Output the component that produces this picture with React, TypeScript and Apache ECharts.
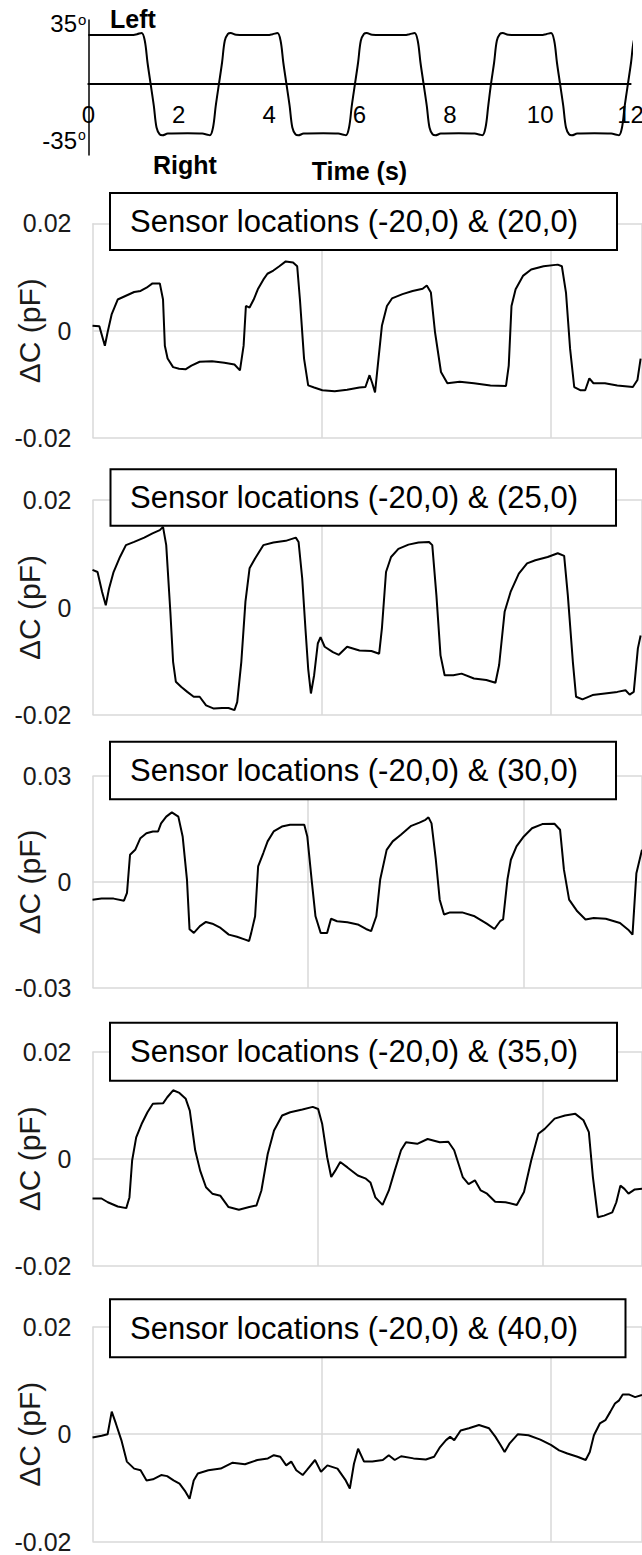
import React, { useEffect, useRef } from "react";
import * as echarts from "echarts";

const FONT = "'Liberation Sans', Arial, sans-serif";

// Head rotation command: [time (s), angle (deg)]
const angleTrace: [number, number][] = [
  [0, 34], [0.5, 34], [0.96, 34], [1.08, 34.6], [1.18, 35.4], [1.25, 30], [1.31, 15], [1.38, 0],
  [1.45, -15], [1.51, -30], [1.58, -34.8], [1.64, -35.4], [1.76, -34.2], [2.2, -34], [2.52, -34.2],
  [2.62, -34.8], [2.69, -35.4], [2.76, -30], [2.82, -15], [2.89, 0], [2.96, 15], [3.02, 30],
  [3.09, 34.8], [3.15, 35.4], [3.27, 34.2], [3.7, 34], [3.97, 34], [4.08, 34.6], [4.185, 35.4],
  [4.255, 30], [4.315, 15], [4.385, 0], [4.455, -15], [4.515, -30], [4.585, -34.8], [4.645, -35.4],
  [4.765, -34.2], [5.2, -34], [5.53, -34.2], [5.63, -34.8], [5.7, -35.4], [5.77, -30], [5.83, -15],
  [5.9, 0], [5.97, 15], [6.03, 30], [6.1, 34.8], [6.16, 35.4], [6.28, 34.2], [6.7, 34], [7.0, 34],
  [7.11, 34.6], [7.22, 35.4], [7.29, 30], [7.35, 15], [7.42, 0], [7.49, -15], [7.55, -30],
  [7.62, -34.8], [7.68, -35.4], [7.8, -34.2], [8.2, -34], [8.55, -34.2], [8.65, -34.8], [8.72, -35.4],
  [8.79, -30], [8.85, -15], [8.91, 0], [8.98, 15], [9.04, 30], [9.11, 34.8], [9.17, 35.4],
  [9.29, 34.2], [9.7, 34], [10.02, 34], [10.13, 34.6], [10.24, 35.4], [10.31, 30], [10.37, 15],
  [10.44, 0], [10.51, -15], [10.57, -30], [10.64, -34.8], [10.7, -35.4], [10.82, -34.2], [11.2, -34],
  [11.57, -34.2], [11.67, -34.8], [11.74, -35.4], [11.81, -30], [11.87, -15], [11.94, 0],
  [12.01, 15], [12.07, 30], [12.14, 34.8], [12.2, 35.4], [12.3, 34.5],
];
const timeTicks = [0, 2, 4, 6, 8, 10, 12];

// Capacitance change traces: [time (s), ΔC (pF)]
const trace20: [number, number][] = [
  [0, 0.0009], [0.15, 0.0008], [0.27, -0.0028], [0.33, -0.0003], [0.42, 0.0031], [0.55, 0.0058],
  [0.73, 0.0065], [0.91, 0.0072], [1.05, 0.0074], [1.18, 0.008], [1.31, 0.0088], [1.47, 0.0088],
  [1.54, 0.0058], [1.58, -0.0028], [1.64, -0.0052], [1.76, -0.0068], [1.89, -0.0071], [2.03, -0.0072],
  [2.16, -0.0065], [2.34, -0.0058], [2.61, -0.0057], [2.88, -0.006], [3.1, -0.0063], [3.22, -0.0074],
  [3.3, -0.0028], [3.35, 0.0046], [3.43, 0.0043], [3.52, 0.0058], [3.61, 0.0077], [3.73, 0.0095],
  [3.82, 0.0106], [3.95, 0.0112], [4.08, 0.012], [4.22, 0.0129], [4.38, 0.0127], [4.47, 0.012],
  [4.53, 0.0058], [4.62, -0.0052], [4.71, -0.0102], [4.84, -0.0106], [5.02, -0.0111], [5.29, -0.0113],
  [5.56, -0.011], [5.83, -0.0106], [5.96, -0.0105], [6.05, -0.0083], [6.11, -0.0098], [6.17, -0.0115],
  [6.23, -0.0065], [6.32, 0.0009], [6.43, 0.0046], [6.54, 0.006], [6.77, 0.0068], [6.99, 0.0074],
  [7.21, 0.0078], [7.3, 0.0084], [7.39, 0.0071], [7.48, -0.0003], [7.61, -0.0077], [7.75, -0.0098],
  [8.02, -0.0095], [8.33, -0.0098], [8.69, -0.0102], [9.03, -0.0103], [9.09, -0.0065], [9.15, 0.0046],
  [9.24, 0.0077], [9.4, 0.0102], [9.58, 0.0114], [9.85, 0.012], [10.16, 0.0123], [10.25, 0.012],
  [10.34, 0.0071], [10.43, -0.0034], [10.52, -0.0105], [10.65, -0.0111], [10.76, -0.0111],
  [10.85, -0.0089], [10.94, -0.0098], [11.19, -0.0098], [11.46, -0.0102], [11.8, -0.0105],
  [11.9, -0.0092], [11.97, -0.0052],
];

const trace25: [number, number][] = [
  [0, 0.007], [0.11, 0.0066], [0.21, 0.0029], [0.29, 0.0004], [0.36, 0.0035], [0.46, 0.0066],
  [0.6, 0.0094], [0.73, 0.0116], [0.91, 0.0122], [1.13, 0.013], [1.31, 0.0138], [1.47, 0.0144],
  [1.54, 0.015], [1.61, 0.0116], [1.7, -0.0008], [1.76, -0.0101], [1.82, -0.0138], [1.94, -0.0148],
  [2.07, -0.0157], [2.21, -0.0166], [2.34, -0.0166], [2.48, -0.0182], [2.65, -0.0188], [2.83, -0.0187],
  [2.97, -0.0187], [3.1, -0.0191], [3.16, -0.0176], [3.25, -0.0101], [3.34, 0.0011], [3.43, 0.0073],
  [3.55, 0.0091], [3.73, 0.0116], [3.95, 0.0121], [4.22, 0.0124], [4.44, 0.013], [4.5, 0.0122],
  [4.58, 0.0054], [4.65, -0.0039], [4.71, -0.0114], [4.77, -0.016], [4.84, -0.0126], [4.92, -0.0067],
  [4.98, -0.0055], [5.07, -0.0073], [5.25, -0.0083], [5.38, -0.0088], [5.56, -0.0073], [5.83, -0.008],
  [6.09, -0.0081], [6.26, -0.0086], [6.32, -0.0039], [6.41, 0.0066], [6.52, 0.0094], [6.68, 0.0109],
  [6.9, 0.0117], [7.12, 0.0121], [7.35, 0.0122], [7.42, 0.0116], [7.51, 0.0023], [7.6, -0.0089],
  [7.69, -0.0126], [7.88, -0.0126], [8.06, -0.0123], [8.33, -0.0132], [8.6, -0.0135], [8.8, -0.014],
  [8.88, -0.0107], [9.0, -0.0008], [9.13, 0.0029], [9.31, 0.0063], [9.49, 0.0082], [9.67, 0.0088],
  [9.94, 0.0094], [10.16, 0.0101], [10.3, 0.0096], [10.38, 0.0023], [10.49, -0.0101], [10.56, -0.0166],
  [10.7, -0.0171], [10.92, -0.0163], [11.19, -0.016], [11.46, -0.0157], [11.64, -0.0154],
  [11.73, -0.0162], [11.82, -0.0157], [11.91, -0.0076], [11.97, -0.0052],
];

const trace30: [number, number][] = [
  [0, -0.005], [0.21, -0.0047], [0.49, -0.0047], [0.73, -0.0053], [0.8, -0.0031], [0.87, 0.0077],
  [0.99, 0.0091], [1.11, 0.0124], [1.25, 0.0138], [1.4, 0.0143], [1.52, 0.0143], [1.59, 0.0166],
  [1.71, 0.0185], [1.84, 0.0197], [1.99, 0.0185], [2.09, 0.0129], [2.19, 0.0007], [2.25, -0.0134],
  [2.35, -0.0144], [2.49, -0.0125], [2.63, -0.0113], [2.78, -0.0118], [2.97, -0.013], [3.16, -0.0149],
  [3.35, -0.0155], [3.54, -0.0163], [3.63, -0.0167], [3.68, -0.0144], [3.77, -0.0097], [3.84, 0.0044],
  [3.96, 0.0082], [4.06, 0.0115], [4.2, 0.0143], [4.39, 0.0157], [4.58, 0.0162], [4.91, 0.0162],
  [4.98, 0.0129], [5.08, 0.0007], [5.17, -0.0097], [5.29, -0.0144], [5.44, -0.0144], [5.53, -0.0104],
  [5.67, -0.0111], [5.91, -0.0114], [6.15, -0.012], [6.34, -0.0133], [6.46, -0.0139], [6.58, -0.0097],
  [6.67, 0.0007], [6.82, 0.0091], [6.96, 0.0115], [7.15, 0.0134], [7.39, 0.0159], [7.58, 0.0168],
  [7.72, 0.0176], [7.79, 0.0183], [7.86, 0.0166], [7.96, 0.0063], [8.05, -0.005], [8.15, -0.0092],
  [8.29, -0.0086], [8.57, -0.0086], [8.86, -0.0097], [9.14, -0.0118], [9.32, -0.0133], [9.45, -0.0111],
  [9.52, -0.0106], [9.62, 0.0007], [9.7, 0.0063], [9.83, 0.0101], [10.0, 0.0129], [10.19, 0.0152],
  [10.43, 0.0164], [10.71, 0.0165], [10.84, 0.0148], [10.93, 0.0035], [11.05, -0.005], [11.24, -0.0083],
  [11.43, -0.0106], [11.62, -0.0102], [11.9, -0.0104], [12.23, -0.0116], [12.42, -0.0135],
  [12.52, -0.0149], [12.61, 0.0025], [12.74, 0.0091],
];

const trace35: [number, number][] = [
  [0, -0.0074], [0.2, -0.0074], [0.34, -0.0081], [0.56, -0.0089], [0.75, -0.0092], [0.82, -0.0072],
  [0.88, -0.0003], [0.97, 0.004], [1.09, 0.0065], [1.22, 0.0087], [1.34, 0.0103], [1.57, 0.0104],
  [1.66, 0.0115], [1.79, 0.0128], [1.93, 0.0123], [2.07, 0.0112], [2.16, 0.009], [2.28, 0.0016],
  [2.39, -0.0022], [2.52, -0.0053], [2.66, -0.0065], [2.84, -0.0069], [3.02, -0.009], [3.25, -0.0095],
  [3.48, -0.009], [3.64, -0.0087], [3.75, -0.0059], [3.89, 0.0009], [4.03, 0.0053], [4.21, 0.0081],
  [4.39, 0.0087], [4.66, 0.0092], [4.89, 0.0097], [5.01, 0.0093], [5.1, 0.0065], [5.21, 0.0003],
  [5.3, -0.0034], [5.39, -0.0022], [5.5, -0.0006], [5.66, -0.0016], [5.89, -0.0031], [6.07, -0.0037],
  [6.17, -0.0044], [6.28, -0.0072], [6.44, -0.0086], [6.58, -0.0059], [6.71, -0.0022], [6.85, 0.0016],
  [6.96, 0.0031], [7.21, 0.0028], [7.44, 0.0037], [7.71, 0.0031], [7.9, 0.0032], [8.03, 0.0016],
  [8.22, -0.0034], [8.35, -0.0047], [8.49, -0.004], [8.62, -0.0059], [8.76, -0.0065], [8.94, -0.008],
  [9.17, -0.0081], [9.42, -0.0086], [9.58, -0.0062], [9.74, -0.0003], [9.9, 0.0047], [10.04, 0.0056],
  [10.26, 0.0075], [10.49, 0.0081], [10.72, 0.0084], [10.9, 0.0072], [11.02, 0.005], [11.11, -0.0034],
  [11.22, -0.0109], [11.36, -0.0106], [11.54, -0.01], [11.63, -0.0081], [11.72, -0.005],
  [11.81, -0.0056], [11.9, -0.0065], [12.04, -0.0057], [12.2, -0.0056],
];

const trace40: [number, number][] = [
  [0, -0.0006], [0.2, -0.0003], [0.33, 0], [0.42, 0.0042], [0.51, 0.002], [0.63, -0.0011],
  [0.75, -0.0051], [0.91, -0.0064], [1.05, -0.0067], [1.18, -0.0086], [1.32, -0.0084], [1.5, -0.0076],
  [1.63, -0.0078], [1.77, -0.0086], [1.9, -0.0092], [2.03, -0.0107], [2.12, -0.012], [2.21, -0.0086],
  [2.3, -0.0073], [2.53, -0.0067], [2.8, -0.0064], [3.06, -0.0053], [3.33, -0.0056], [3.6, -0.0048],
  [3.83, -0.0045], [3.96, -0.0039], [4.1, -0.0042], [4.23, -0.0058], [4.34, -0.0051], [4.45, -0.0067],
  [4.59, -0.0076], [4.68, -0.0067], [4.86, -0.0048], [4.99, -0.007], [5.13, -0.0058], [5.35, -0.0064],
  [5.53, -0.0086], [5.62, -0.0101], [5.71, -0.0055], [5.8, -0.0027], [5.93, -0.0051], [6.11, -0.0051],
  [6.34, -0.0048], [6.47, -0.0039], [6.6, -0.0048], [6.74, -0.0041], [7.01, -0.0045], [7.28, -0.0047],
  [7.46, -0.0042], [7.59, -0.0024], [7.72, -0.0011], [7.81, -0.0005], [7.9, -0.0011], [8.04, 0.0007],
  [8.22, 0.0011], [8.44, 0.0017], [8.66, 0.0011], [8.8, -0.0005], [8.91, -0.002], [9.0, -0.0033],
  [9.11, -0.0017], [9.29, 0], [9.52, -0.0002], [9.78, -0.001], [10.01, -0.002], [10.19, -0.003],
  [10.37, -0.0036], [10.59, -0.0042], [10.77, -0.0048], [10.86, -0.0033], [10.95, -0.0002],
  [11.08, 0.002], [11.2, 0.0026], [11.31, 0.0042], [11.41, 0.0057], [11.5, 0.0063], [11.58, 0.0074],
  [11.71, 0.0074], [11.85, 0.0069], [12.0, 0.0073],
];

const panelTitles = [
  "Sensor locations (-20,0) & (20,0)",
  "Sensor locations (-20,0) & (25,0)",
  "Sensor locations (-20,0) & (30,0)",
  "Sensor locations (-20,0) & (35,0)",
  "Sensor locations (-20,0) & (40,0)",
];
const panelTraces = [trace20, trace25, trace30, trace35, trace40];
const panelLimits = [0.02, 0.02, 0.03, 0.02, 0.02];
const panelTimeMax = [12, 12, 12.74, 12.2, 12];

// Plot-area placement of each sensor panel (px)
const panelGrids = [
  { top: 223.3, height: 214.7 },
  { top: 500, height: 215 },
  { top: 776, height: 212 },
  { top: 1051.7, height: 214.3 },
  { top: 1326.7, height: 215 },
];
const panelBoxes = [
  { x: 110, y: 193, w: 507, h: 57 },
  { x: 110.5, y: 469.3, w: 505.5, h: 56.4 },
  { x: 110, y: 741.7, w: 506, h: 57.6 },
  { x: 110, y: 1022.7, w: 507, h: 58 },
  { x: 110, y: 1299.3, w: 515.5, h: 58 },
];

const GRID_COLOR = "#d9d9d9";
const LABEL_COLOR = "#1a1a1a";

// Angle panel geometry: plot area and value range
const ANGLE_TOP = 20;
const ANGLE_HEIGHT = 135;
const ANGLE_MIN = -49;
const ANGLE_MAX = 44.4;

export default function App() {
  const ref = useRef<HTMLDivElement>(null);

  useEffect(() => {
    if (!ref.current) return;
    const chart = echarts.init(ref.current, undefined, { renderer: "svg" });

    // distance from the plot bottom up to the 0° line
    const zeroLift = (ANGLE_HEIGHT * (0 - ANGLE_MIN)) / (ANGLE_MAX - ANGLE_MIN);

    const grids: any[] = [
      {
        left: 88.3,
        top: ANGLE_TOP,
        width: 542.3,
        height: ANGLE_HEIGHT,
        containLabel: false,
        outerBoundsMode: "none",
      },
    ];
    const xAxes: any[] = [
      {
        gridIndex: 0,
        type: "value",
        min: 0,
        max: 12,
        interval: 2,
        offset: -zeroLift,
        axisLine: { show: true, onZero: false, lineStyle: { color: "#000", width: 2 } },
        axisTick: { show: false },
        splitLine: { show: false },
        axisLabel: {
          fontSize: 24,
          fontFamily: FONT,
          color: "#000",
          margin: 18,
          customValues: timeTicks,
        },
        name: "Time (s)",
        nameLocation: "middle",
        nameGap: 74,
        nameMoveOverlap: false,
        nameTextStyle: { fontSize: 25, fontWeight: "bold", fontFamily: FONT, color: "#000" },
      },
    ];
    const yAxes: any[] = [
      {
        gridIndex: 0,
        type: "value",
        min: ANGLE_MIN,
        max: ANGLE_MAX,
        axisLine: { show: true, onZero: false, lineStyle: { color: "#000", width: 1.5 } },
        axisTick: { show: false },
        axisLabel: { show: false },
        splitLine: { show: false },
      },
    ];
    const series: any[] = [
      {
        type: "line",
        xAxisIndex: 0,
        yAxisIndex: 0,
        data: angleTrace,
        showSymbol: false,
        smooth: 0.35,
        clip: false,
        lineStyle: { color: "#000", width: 2 },
      },
    ];

    panelTraces.forEach((trace, i) => {
      const idx = i + 1;
      const lim = panelLimits[i];
      grids.push({
        left: 92.5,
        right: 0,
        top: panelGrids[i].top,
        height: panelGrids[i].height,
        containLabel: false,
        outerBoundsMode: "none",
      });
      xAxes.push({
        gridIndex: idx,
        type: "value",
        min: 0,
        max: panelTimeMax[i],
        interval: 5,
        axisLine: { show: false },
        axisTick: { show: false },
        axisLabel: { show: false },
        splitLine: { show: true, lineStyle: { color: GRID_COLOR, width: 1.5 } },
      });
      yAxes.push({
        gridIndex: idx,
        type: "value",
        min: -lim,
        max: lim,
        interval: lim,
        axisLine: { show: false },
        axisTick: { show: false },
        splitLine: { show: true, lineStyle: { color: GRID_COLOR, width: 1.5 } },
        axisLabel: {
          fontSize: 25,
          fontFamily: FONT,
          color: LABEL_COLOR,
          margin: 21,
          formatter: (v: number) => (Math.abs(v) < 1e-12 ? "0" : String(+v.toFixed(2))),
        },
        name: "ΔC (pF)",
        nameLocation: "middle",
        nameGap: 48,
        nameRotate: 90,
        nameMoveOverlap: false,
        nameTextStyle: { fontSize: 30, fontFamily: FONT, color: LABEL_COLOR },
      });
      series.push({
        type: "line",
        xAxisIndex: idx,
        yAxisIndex: idx,
        data: trace,
        showSymbol: false,
        lineStyle: { color: "#000", width: 2 },
      });
    });

    const txt = (
      text: string,
      x: number,
      y: number,
      size: number,
      align: string,
      bold = false
    ) => ({
      type: "text",
      z: 100,
      style: {
        text,
        x,
        y,
        fill: "#000",
        fontSize: size,
        fontFamily: FONT,
        fontWeight: bold ? "bold" : "normal",
        textAlign: align,
        align,
        textVerticalAlign: "middle",
        verticalAlign: "middle",
      },
    });

    const graphics: any[] = [
      txt("Left", 110, 18.5, 25, "left", true),
      txt("Right", 153, 165, 25, "left", true),
      txt("35", 77, 23.5, 24, "right"),
      txt("o", 78, 19.5, 15, "left"),
      txt("-35", 77, 140.5, 24, "right"),
      txt("o", 78, 135, 14, "left"),
    ];
    panelBoxes.forEach((b, i) => {
      graphics.push({
        type: "rect",
        z: 100,
        shape: { x: b.x, y: b.y, width: b.w, height: b.h },
        style: { fill: "#fff", stroke: "#000", lineWidth: 2 },
      });
      graphics.push(txt(panelTitles[i], 130, b.y + b.h / 2, 31, "left"));
    });

    chart.setOption({
      animation: false,
      backgroundColor: "#fff",
      grid: grids,
      xAxis: xAxes,
      yAxis: yAxes,
      series,
      graphic: graphics,
    });

    return () => chart.dispose();
  }, []);

  return (
    <div
      ref={ref}
      style={{ position: "absolute", left: 0, top: 0, width: 642, height: 1555, background: "#fff" }}
    />
  );
}
